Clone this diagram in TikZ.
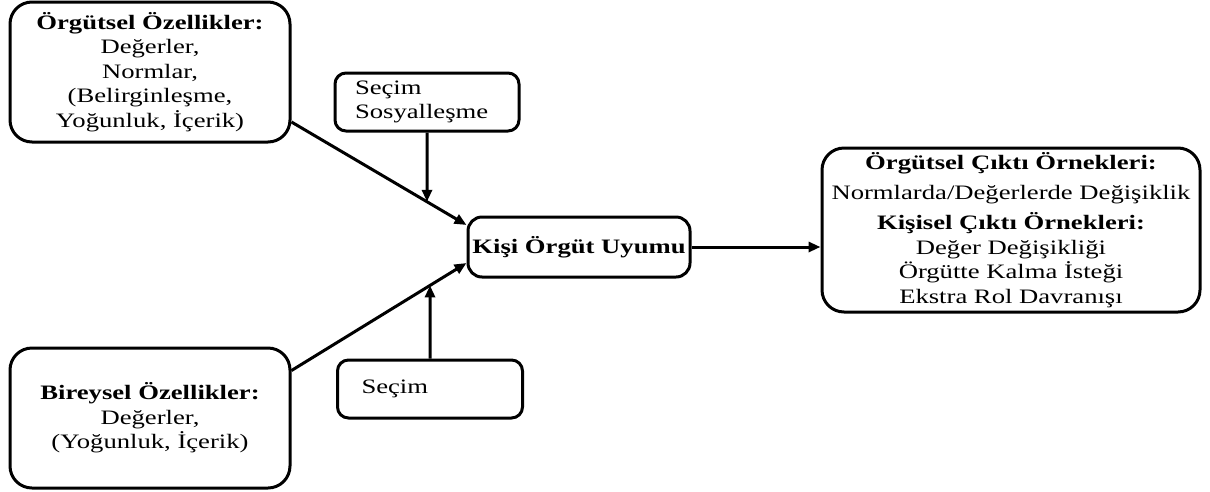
\documentclass[tikz,border=0pt]{standalone}
\usepackage{fontspec}
\setmainfont{Liberation Serif}[FakeStretch=1.3]
\usetikzlibrary{arrows.meta,calc}
\begin{document}
\begin{tikzpicture}[x=1pt,y=-1pt,
  box/.style={draw, line width=3pt, rounded corners=22pt, align=center,
    font=\fontsize{20.5}{24.5}\selectfont, inner sep=0pt},
  smallbox/.style={draw, line width=3pt, rounded corners=11pt, align=left,
    font=\fontsize{20.5}{24.5}\selectfont, inner ysep=0pt},
  arr/.style={line width=3pt, -{Triangle[length=12pt,width=10pt]}}]
\useasboundingbox (0,0) rectangle (1210,491);

\node[box, minimum width=280, minimum height=140] (A) at (150,72)
  {\textbf{Örgütsel Özellikler:}\\Değerler,\\Normlar,\\(Belirginleşme,\\Yoğunluk, İçerik)};
\node[box, minimum width=280, minimum height=140] (B) at (150,418)
  {\textbf{Bireysel Özellikler:}\\Değerler,\\(Yoğunluk, İçerik)};
\node[smallbox, text width=144, inner xsep=20, minimum height=58] (SS) at (427,102)
  {Seçim\\Sosyalleşme};
\node[smallbox, text width=137, inner xsep=24, minimum height=58] (S2) at (430,389)
  {Seçim};
\node[box, rounded corners=14pt, minimum width=222, minimum height=60] (K) at (579,247)
  {\textbf{Kişi Örgüt Uyumu}};
\node[box, minimum width=378, minimum height=164] (O) at (1011,230)
  {\textbf{Örgütsel Çıktı Örnekleri:}\\[5pt]Normlarda/Değerlerde Değişiklik\\[6pt]
   \textbf{Kişisel Çıktı Örnekleri:}\\Değer Değişikliği\\Örgütte Kalma İsteği\\Ekstra Rol Davranışı};

\coordinate (a1) at ($(A.east)+(0,50)$);
\coordinate (k1) at ($(K.west)+(0,-22)$);
\coordinate (b1) at ($(B.north east)+(0,24)$);
\coordinate (k2) at ($(K.west)+(0,16)$);
\coordinate (m1) at (intersection of a1--k1 and SS.south--SS.north);
\coordinate (m2) at (intersection of b1--k2 and S2.south--S2.north);

\draw[arr] (a1) -- (k1);
\draw[arr] (b1) -- (k2);
\draw[arr] (SS.south) -- (m1);
\draw[arr] (S2.north) -- (m2);
\draw[arr] (K.east) -- (K.east -| O.west);
\end{tikzpicture}
\end{document}
